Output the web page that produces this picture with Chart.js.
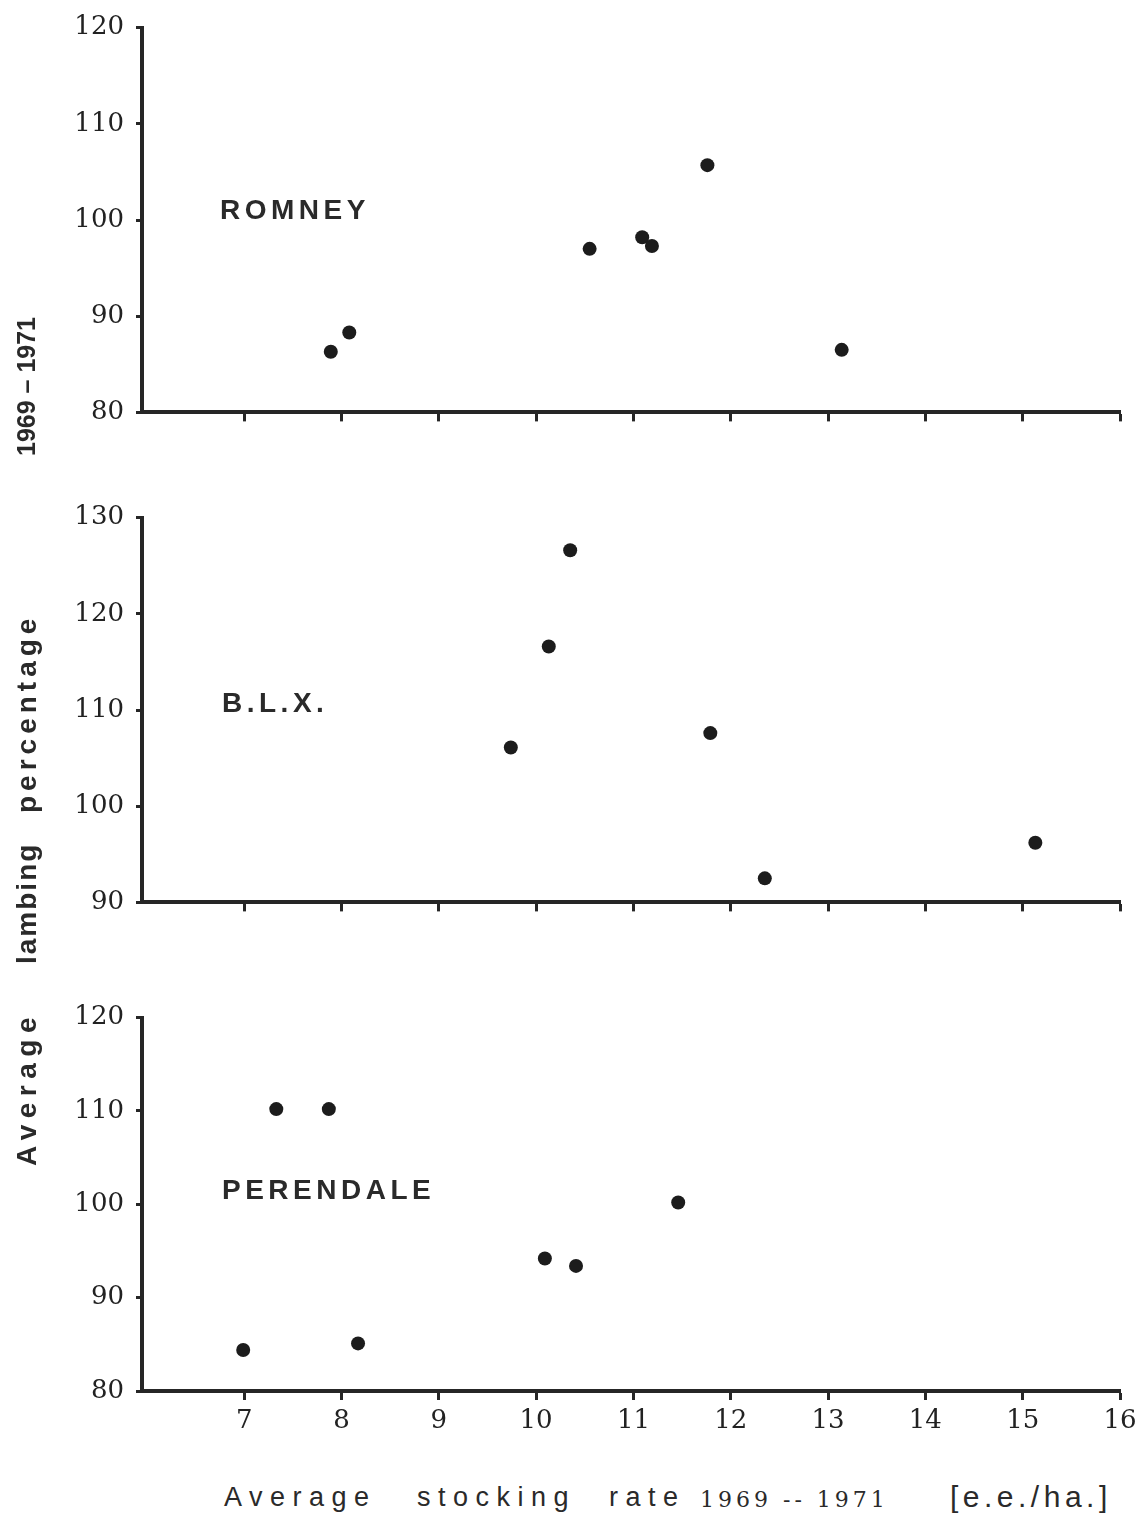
<!DOCTYPE html>
<html>
<head>
<meta charset="utf-8">
<script src="https://cdn.jsdelivr.net/npm/chart.js@4.4.1/dist/chart.umd.min.js"></script>
<style>
  html, body { margin: 0; padding: 0; background: #fff; }
  #wrap { position: relative; width: 1144px; height: 1519px; overflow: hidden; background: #fff; }
  canvas { position: absolute; left: 0; }
  .lbl { position: absolute; font-family: "Liberation Sans", Arial, sans-serif; font-weight: bold; color: #2a2a2a; font-size: 28px; letter-spacing: 4.5px; line-height: 1; white-space: pre; }
  .yt { position: absolute; left: 13px; transform-origin: 0 0; transform: rotate(-90deg); white-space: pre; font-family: "Liberation Sans", Arial, sans-serif; font-size: 28px; font-weight: bold; color: #2a2a2a; letter-spacing: 5px; line-height: 1; }
  .yt.d { font-size: 25px; letter-spacing: 0px; left: 14px; }
  .xt { position: absolute; top: 1484px; white-space: pre; font-family: "Liberation Sans", Arial, sans-serif; color: #2a2a2a; line-height: 1; font-size: 27px; letter-spacing: 7.5px; }
  .xt.d { font-family: "DejaVu Serif", serif; font-size: 22px; letter-spacing: 4px; top: 1489px; }
  .xt.u { font-size: 30px; letter-spacing: 4.5px; top: 1482px; }
</style>
</head>
<body>
<div id="wrap">
  <canvas id="c1" width="1144" height="440" style="top:0px"></canvas>
  <canvas id="c2" width="1144" height="440" style="top:490px"></canvas>
  <canvas id="c3" width="1144" height="480" style="top:990px"></canvas>
  <div class="lbl" style="left:220px; top:196px;">ROMNEY</div>
  <div class="lbl" style="left:222px; top:689px;">B.L.X.</div>
  <div class="lbl" style="left:222px; top:1176px;">PERENDALE</div>
  <div class="yt" style="top:1166px; letter-spacing:6.5px;">Average</div>
  <div class="yt" style="top:964px; letter-spacing:2px;">lambing</div>
  <div class="yt" style="top:813px; letter-spacing:5px;">percentage</div>
  <div class="yt d" style="top:456px;">1969 – 1971</div>
  <div class="xt" style="left:224px;">Average</div>
  <div class="xt" style="left:417px;">stocking</div>
  <div class="xt" style="left:609px;">rate</div>
  <div class="xt d" style="left:700px;">1969 -- 1971</div>
  <div class="xt u" style="left:950px;">[e.e./ha.]</div>
</div>
<script>
// ---- data ----
const xTickValues = [7, 8, 9, 10, 11, 12, 13, 14, 15, 16];

const romneyX = [7.89, 8.08, 10.55, 11.09, 11.19, 11.76, 13.14];
const romneyY = [86.3, 88.3, 97.0, 98.2, 97.3, 105.7, 86.5];

const blxX = [9.74, 10.13, 10.35, 11.79, 12.35, 15.13];
const blxY = [106.1, 116.6, 126.6, 107.6, 92.5, 96.2];

const perendaleX = [6.99, 7.33, 7.87, 8.17, 10.09, 10.41, 11.46];
const perendaleY = [84.4, 110.2, 110.2, 85.1, 94.2, 93.4, 100.2];

const romneyYTicks = [80, 90, 100, 110, 120];
const blxYTicks = [90, 100, 110, 120, 130];
const perendaleYTicks = [80, 90, 100, 110, 120];

// ---- helpers ----
const INK = '#262626';
const toPoints = (xs, ys) => xs.map((x, i) => ({ x: x, y: ys[i] }));

function makeChart(id, xs, ys, yTicks, showXLabels, padTop, xAxisHeight) {
  const ctx = document.getElementById(id);
  return new Chart(ctx, {
    type: 'scatter',
    data: {
      datasets: [{
        data: toPoints(xs, ys),
        pointRadius: 7,
        pointHoverRadius: 7,
        pointBackgroundColor: '#1c1c1c',
        pointBorderWidth: 0,
        showLine: false
      }]
    },
    options: {
      responsive: false,
      animation: false,
      devicePixelRatio: 1,
      events: [],
      layout: { padding: { top: padTop, right: 24, left: 0, bottom: 0 } },
      plugins: { legend: { display: false }, tooltip: { enabled: false } },
      scales: {
        x: {
          type: 'linear',
          min: 5.95,
          max: 16,
          afterFit: (s) => { s.height = xAxisHeight; },
          afterBuildTicks: (s) => {
            s.ticks = xTickValues.map(v => ({ value: v }));
          },
          border: { display: true, color: INK, width: 4 },
          grid: {
            display: true,
            drawOnChartArea: false,
            drawTicks: true,
            tickLength: 9,
            tickWidth: 3,
            color: INK,
            tickColor: INK
          },
          ticks: {
            display: showXLabels,
            padding: 6,
            color: '#222',
            font: { family: '"DejaVu Serif", serif', size: 26 },
            callback: (v) => String(v)
          }
        },
        y: {
          type: 'linear',
          min: yTicks[0],
          max: yTicks[yTicks.length - 1],
          afterFit: (s) => { s.width = 142; },
          afterBuildTicks: (s) => { s.ticks = yTicks.map(v => ({ value: v })); },
          border: { display: true, color: INK, width: 4 },
          grid: {
            display: true,
            drawOnChartArea: false,
            drawTicks: true,
            tickLength: 6,
            tickWidth: 3,
            color: INK,
            tickColor: INK
          },
          ticks: {
            padding: 12,
            color: '#222',
            font: { family: '"DejaVu Serif", serif', size: 26 }
          }
        }
      }
    }
  });
}

makeChart('c1', romneyX, romneyY, romneyYTicks, false, 24, 26);
makeChart('c2', blxX, blxY, blxYTicks, false, 24, 27);
makeChart('c3', perendaleX, perendaleY, perendaleYTicks, true, 23, 79);
</script>
</body>
</html>
